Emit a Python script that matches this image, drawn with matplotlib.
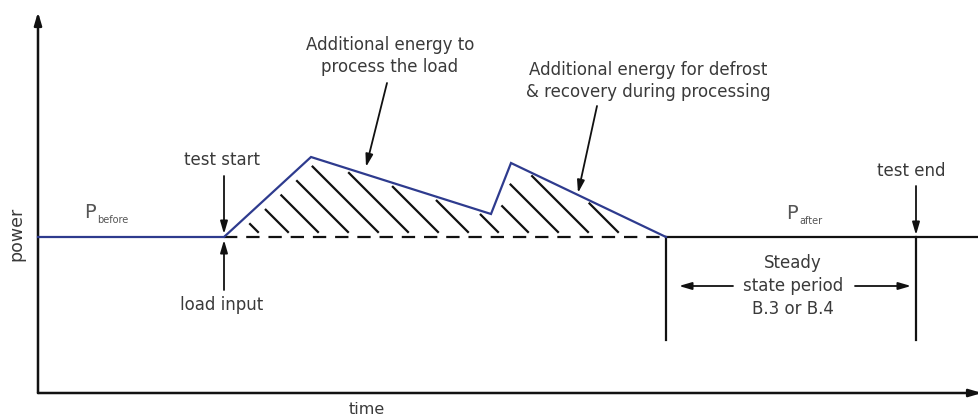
import matplotlib.pyplot as plt
import numpy as np

plt.rcParams['font.family'] = ['DejaVu Sans']

# schematic profile (time units ~ px, power units ~ px from bottom)
base_p = 180
load_t = [38, 224, 311, 491, 511, 666]
load_p = [180, 180, 260, 203, 254, 180]
after_t = [666, 979]
after_p = [180, 180]
t_load_input = 224
t_steady_start = 666
t_test_end = 916
axis_p = 24
hatch_step = 30

txt_col = '#3a3a3a'
blue = '#2e3b8e'
blk = '#111111'
fs = 12

fig = plt.figure(figsize=(9.79, 4.17), dpi=100)
ax = fig.add_axes([0, 0, 1, 1])
ax.set_xlim(0, 979)
ax.set_ylim(0, 417)
ax.axis('off')


def arrow(x0, y0, x1, y1, lw=1.3):
    ax.annotate('', xy=(x1, y1), xytext=(x0, y0), annotation_clip=False,
                arrowprops=dict(arrowstyle='-|>,head_length=0.75,head_width=0.22',
                                color=blk, lw=lw, shrinkA=0, shrinkB=0,
                                mutation_scale=10))


# axes
arrow(38, axis_p, 38, 405, lw=1.8)
arrow(38, axis_p, 982, axis_p, lw=1.8)
ax.text(16, 183, 'power', rotation=90, ha='center', va='center',
        fontsize=12.5, color=txt_col)
ax.text(367, 8, 'time', ha='center', va='center', fontsize=11.5, color=txt_col)

# power curve
ax.plot(load_t, load_p, color=blue, lw=1.6, solid_joinstyle='miter', zorder=3)
ax.plot(after_t, after_p, color=blk, lw=1.6)
ax.plot([t_load_input, t_steady_start], [base_p, base_p], color=blk, lw=1.6,
        dashes=(6, 4))

# hatching inside the extra-energy area
tt = np.linspace(t_load_input, t_steady_start, 4000)
top = np.interp(tt, load_t, load_p)
for tb in np.arange(263, t_steady_start, hatch_step):
    c = tb + base_p
    yl = c - tt
    inside = (yl <= top) & (yl >= base_p)
    if not inside.any():
        continue
    ta = tt[inside].min()
    ta2 = ta + 7 / np.sqrt(2)
    tb2 = tb - 6 / np.sqrt(2)
    if tb2 - ta2 < 6:
        continue
    ax.plot([ta2, tb2], [c - ta2, c - tb2], color=blk, lw=1.6,
            solid_capstyle='butt')

# vertical markers
ax.plot([t_steady_start, t_steady_start], [base_p, 77], color=blk, lw=1.6)
ax.plot([t_test_end, t_test_end], [base_p, 77], color=blk, lw=1.6)

# labels + arrows
ax.text(222, 257, 'test start', ha='center', va='center', fontsize=fs, color=txt_col)
arrow(224, 241, 224, 183)
ax.text(222, 112, 'load input', ha='center', va='center', fontsize=fs, color=txt_col)
arrow(224, 127, 224, 177)
ax.text(911, 246, 'test end', ha='center', va='center', fontsize=fs, color=txt_col)
arrow(916, 231, 916, 182)

ax.text(84, 205, 'P', ha='left', va='center', fontsize=14, color='#555555')
ax.text(97, 197, 'before', ha='left', va='center', fontsize=7, color='#555555')
ax.text(786, 204, 'P', ha='left', va='center', fontsize=14, color='#555555')
ax.text(799, 196, 'after', ha='left', va='center', fontsize=7, color='#555555')

ax.text(793, 131, 'Steady\nstate period\nB.3 or B.4', ha='center', va='center',
        fontsize=fs, color=txt_col, linespacing=1.35)
arrow(733, 131, 679, 131)
arrow(855, 131, 911, 131)

ax.text(390, 361, 'Additional energy to\nprocess the load', ha='center',
        va='center', fontsize=fs, color=txt_col, linespacing=1.35)
arrow(387, 334, 366, 250)
ax.text(648, 336, 'Additional energy for defrost\n& recovery during processing',
        ha='center', va='center', fontsize=fs, color=txt_col, linespacing=1.35)
arrow(597, 311, 578, 224)

fig.savefig('out.png', dpi=100, facecolor='white')
